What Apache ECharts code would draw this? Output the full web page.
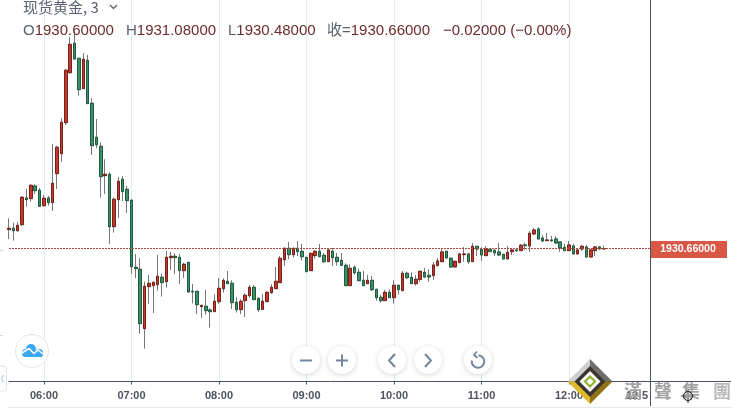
<!DOCTYPE html>
<html>
<head>
<meta charset="utf-8">
<style>
html, body { margin: 0; padding: 0; background: #fff; }
#chart { width: 732px; height: 410px; }
</style>
<script src="https://cdn.jsdelivr.net/npm/echarts@6/dist/echarts.min.js"></script>
</head>
<body>
<div id="chart"></div>
<script>
// 3 minute bars, first one at 05:36
var hourLabels = ["06:00", "07:00", "08:00", "09:00", "10:00", "11:00", "12:00"];
var lastPrice = 1930.66;

var opens = [
  1933.49, 1933.69, 1933.34, 1934.24, 1938.24, 1938.14, 1940.04, 1939.39, 1937.09, 1938.24,
  1937.54, 1941.89, 1944.89, 1949.54, 1957.04, 1961.44, 1959.19, 1954.64, 1958.89, 1952.44,
  1947.34, 1945.99, 1941.59, 1941.79, 1933.94, 1937.99, 1941.04, 1939.54, 1937.89, 1927.84,
  1927.54, 1918.64, 1924.94, 1925.09, 1925.24, 1926.34, 1925.69, 1929.29, 1929.49, 1929.34,
  1927.34, 1928.59, 1924.24, 1924.24, 1921.94, 1921.99, 1921.44, 1921.19, 1922.69, 1924.64,
  1925.74, 1925.44, 1922.59, 1921.49, 1922.84, 1923.59, 1924.84, 1923.19, 1921.54, 1922.69,
  1924.04, 1924.64, 1925.54, 1928.99, 1930.69, 1929.74, 1930.69, 1930.24, 1929.34, 1927.34,
  1929.59, 1930.24, 1929.64, 1928.69, 1930.24, 1929.34, 1928.89, 1928.14, 1925.09, 1927.84,
  1927.09, 1925.89, 1925.39, 1925.89, 1924.54, 1923.34, 1922.84, 1924.09, 1923.29, 1925.14,
  1924.34, 1926.94, 1926.34, 1925.39, 1926.04, 1927.09, 1926.64, 1926.59, 1928.09, 1928.69,
  1930.24, 1929.19, 1927.89, 1928.54, 1929.74, 1929.84, 1928.69, 1930.99, 1930.49, 1929.59,
  1930.54, 1930.39, 1930.14, 1929.79, 1929.09, 1930.19, 1930.44, 1930.34, 1931.19, 1931.04,
  1932.84, 1933.59, 1932.24, 1931.84, 1931.94, 1932.09, 1931.64, 1930.84, 1930.34, 1931.04,
  1929.84, 1930.59, 1930.89, 1929.39, 1930.34, 1930.89, 1930.60
];
var closes = [
  1933.69, 1933.34, 1934.14, 1938.34, 1937.99, 1940.14, 1939.34, 1936.99, 1938.19, 1937.54,
  1940.44, 1945.84, 1949.59, 1957.39, 1961.29, 1959.09, 1954.49, 1959.04, 1952.39, 1946.09,
  1946.24, 1941.44, 1941.79, 1933.94, 1938.04, 1940.74, 1939.19, 1937.84, 1927.94, 1927.64,
  1919.39, 1924.99, 1925.44, 1925.59, 1926.49, 1925.54, 1929.34, 1929.49, 1929.29, 1927.34,
  1928.29, 1924.14, 1924.14, 1922.24, 1922.14, 1921.34, 1921.19, 1922.74, 1924.69, 1925.89,
  1925.39, 1922.54, 1921.49, 1922.74, 1923.64, 1924.84, 1922.99, 1921.49, 1922.74, 1924.09,
  1924.84, 1925.74, 1929.19, 1930.69, 1929.74, 1930.69, 1930.19, 1929.44, 1927.19, 1929.94,
  1930.24, 1929.44, 1928.69, 1930.44, 1929.29, 1928.69, 1928.14, 1925.09, 1927.69, 1927.04,
  1925.84, 1925.09, 1925.89, 1924.49, 1923.29, 1922.84, 1924.09, 1923.29, 1925.14, 1924.49,
  1926.94, 1926.29, 1925.39, 1926.04, 1927.24, 1926.39, 1926.39, 1928.19, 1928.79, 1930.14,
  1929.24, 1927.89, 1928.74, 1929.84, 1929.84, 1928.69, 1930.99, 1930.59, 1929.69, 1930.54,
  1930.19, 1929.99, 1929.69, 1929.09, 1930.09, 1930.44, 1930.34, 1931.14, 1931.09, 1932.94,
  1933.44, 1932.09, 1931.79, 1931.94, 1931.84, 1931.49, 1930.74, 1930.34, 1931.19, 1929.84,
  1930.44, 1930.99, 1929.39, 1930.44, 1930.89, 1930.59, 1930.66
];
var lows = [
  1932.09, 1931.84, 1933.19, 1934.09, 1936.94, 1937.69, 1938.84, 1936.89, 1936.94, 1937.09,
  1936.29, 1939.59, 1943.69, 1949.19, 1956.89, 1958.94, 1953.59, 1954.64, 1952.39, 1944.69,
  1945.69, 1938.29, 1938.84, 1931.34, 1933.04, 1935.24, 1937.79, 1935.99, 1926.89, 1926.24,
  1917.89, 1915.64, 1922.34, 1920.99, 1924.34, 1923.44, 1924.79, 1927.44, 1926.84, 1925.34,
  1926.24, 1924.04, 1922.44, 1920.84, 1920.24, 1920.74, 1918.79, 1921.19, 1922.34, 1924.04,
  1925.34, 1921.59, 1921.04, 1920.84, 1920.39, 1923.29, 1922.99, 1921.19, 1921.49, 1922.69,
  1923.84, 1924.64, 1925.54, 1928.04, 1929.04, 1929.29, 1929.54, 1928.84, 1927.19, 1927.34,
  1929.14, 1929.34, 1928.49, 1928.69, 1928.04, 1928.09, 1928.04, 1925.09, 1925.09, 1926.74,
  1925.84, 1925.09, 1925.34, 1924.29, 1922.84, 1922.54, 1922.84, 1923.29, 1922.39, 1923.74,
  1924.34, 1926.09, 1925.39, 1925.09, 1925.64, 1926.19, 1925.69, 1925.94, 1928.04, 1928.69,
  1929.24, 1927.74, 1927.89, 1928.54, 1928.69, 1928.34, 1928.69, 1929.54, 1928.79, 1929.59,
  1930.14, 1929.54, 1929.54, 1929.09, 1929.09, 1929.69, 1930.14, 1930.34, 1930.44, 1930.14,
  1932.69, 1932.09, 1931.64, 1931.79, 1931.64, 1931.34, 1930.14, 1930.29, 1930.29, 1929.84,
  1929.84, 1930.29, 1929.39, 1929.39, 1929.54, 1930.49, 1930.48
];
var highs = [
  1935.19, 1934.54, 1934.59, 1938.54, 1939.59, 1940.29, 1940.29, 1939.74, 1938.69, 1938.54,
  1946.34, 1946.04, 1950.19, 1957.59, 1962.34, 1963.19, 1959.19, 1959.99, 1959.69, 1953.19,
  1950.09, 1946.59, 1944.04, 1942.09, 1938.29, 1941.34, 1941.54, 1940.04, 1938.09, 1929.84,
  1929.19, 1925.69, 1926.69, 1925.69, 1929.69, 1926.84, 1930.29, 1930.14, 1929.94, 1929.84,
  1928.54, 1928.59, 1925.34, 1924.29, 1922.19, 1924.44, 1921.69, 1923.79, 1926.24, 1926.19,
  1927.29, 1925.89, 1923.34, 1923.04, 1923.94, 1925.19, 1925.19, 1923.34, 1923.84, 1924.29,
  1925.29, 1927.89, 1929.54, 1930.84, 1931.64, 1930.79, 1931.79, 1931.34, 1929.34, 1929.99,
  1930.39, 1931.34, 1929.99, 1930.54, 1930.74, 1929.99, 1929.99, 1928.44, 1928.29, 1928.14,
  1927.64, 1927.29, 1926.69, 1926.54, 1924.54, 1923.69, 1924.44, 1924.54, 1925.89, 1925.29,
  1927.29, 1927.19, 1927.09, 1926.69, 1927.29, 1927.74, 1927.54, 1928.64, 1929.24, 1930.54,
  1930.29, 1929.34, 1928.84, 1929.94, 1930.89, 1930.04, 1931.49, 1930.99, 1930.84, 1931.04,
  1930.69, 1930.59, 1931.49, 1929.84, 1931.04, 1930.74, 1930.69, 1931.34, 1931.54, 1933.29,
  1933.74, 1933.84, 1932.69, 1932.99, 1932.54, 1932.54, 1931.79, 1931.34, 1931.79, 1931.34,
  1930.59, 1931.19, 1931.19, 1930.54, 1930.89, 1931.04, 1931.08
];

// category per bar, axis runs on past the last bar up to the price scale
var categories = [];
for (var i = 0; i < 148; i++) {
  var mins = 5 * 60 + 36 + i * 3;
  var h = Math.floor(mins / 60), m = mins % 60;
  categories.push((h < 10 ? "0" : "") + h + ":" + (m < 10 ? "0" : "") + m);
}

var wicks = opens.map(function (o, i) {
  return [o, closes[i], lows[i], highs[i]];
});
var bodies = opens.map(function (o, i) {
  return [o, closes[i], Math.min(o, closes[i]), Math.max(o, closes[i])];
});

function isHour(idx, value) {
  return hourLabels.indexOf(value) >= 0;
}

function seg(x1, y1, x2, y2, color, width) {
  return {
    type: "line",
    z: 50,
    shape: { x1: x1, y1: y1, x2: x2, y2: y2 },
    style: { stroke: color, lineWidth: width || 1 }
  };
}

function roundBtn(cx) {
  return {
    type: "circle",
    z: 50,
    shape: { cx: cx, cy: 360, r: 14 },
    style: { fill: "#fff", shadowBlur: 5, shadowColor: "rgba(60,70,90,0.22)", shadowOffsetY: 1 }
  };
}

function tri(points, fill, z) {
  return { type: "polygon", z: z, shape: { points: points }, style: { fill: fill } };
}

function wmChar(x, ch, color) {
  return {
    type: "text", z: 71, x: x, y: 391,
    style: { text: ch, fill: color, verticalAlign: "middle", font: 'bold 18px "Noto Sans CJK TC", sans-serif' }
  };
}

var iconColor = "#73859c";
var cloudBlue = "#3aa7f3";
var legendFont = '15px "Liberation Sans", "Noto Sans CJK SC", sans-serif';
var valueColor = "#6f2b2b";

function legendText(x, label, value) {
  return {
    type: "text",
    z: 60,
    x: x,
    y: 23,
    style: {
      text: "{a|" + label + "}{b|" + value + "}",
      rich: {
        a: { font: legendFont, fill: "#5b6172" },
        b: { font: legendFont, fill: valueColor }
      }
    }
  };
}

var chrome = [
  // price scale edge and axis extension
  seg(650.5, 0, 650.5, 406, "#4a5068"),
  seg(650, 381.5, 731, 381.5, "#4a5068"),
  seg(8, 407.5, 731, 407.5, "#e6e8ef"),
  seg(0, 250.5, 3, 250.5, "#d6d8de"),
  seg(0, 335.5, 3, 335.5, "#d6d8de"),

  // last price tag
  { type: "rect", z: 60, shape: { x: 651, y: 241, width: 76, height: 17 }, style: { fill: "#d95745" } },
  {
    type: "text", z: 61, x: 688, y: 249.5,
    style: { text: "1930.66000", fill: "#fff", align: "center", verticalAlign: "middle",
      font: 'bold 10.5px "Liberation Sans", sans-serif' }
  },

  // legend
  {
    type: "text", z: 60, x: 23, y: 0,
    style: { text: "现货黄金, 3", fill: "#5b6172", font: '15px "Noto Sans CJK SC", "Liberation Sans", sans-serif' }
  },
  {
    type: "polyline", z: 60,
    shape: { points: [[110, 5], [113.5, 8.5], [117, 5]] },
    style: { stroke: "#5b6172", fill: "none", lineWidth: 1.3 }
  },
  legendText(23, "O", "1930.60000"),
  legendText(126, "H", "1931.08000"),
  legendText(228, "L", "1930.48000"),
  legendText(327, "收=", "1930.66000"),
  {
    type: "text", z: 60, x: 443, y: 23,
    style: { text: "−0.02000 (−0.00%)", fill: valueColor, font: legendFont }
  },

  // cloud button
  {
    type: "circle", z: 50,
    shape: { cx: 32, cy: 351, r: 16.5 },
    style: { fill: "#fff", stroke: "#e6e6e6", lineWidth: 1 }
  },
  { type: "circle", z: 51, shape: { cx: 26, cy: 353, r: 4 }, style: { fill: cloudBlue } },
  { type: "circle", z: 51, shape: { cx: 31, cy: 349, r: 5 }, style: { fill: cloudBlue } },
  { type: "circle", z: 51, shape: { cx: 39, cy: 353, r: 4 }, style: { fill: cloudBlue } },
  { type: "rect", z: 51, shape: { x: 23, y: 351, width: 20, height: 6, r: 2 }, style: { fill: cloudBlue } },
  {
    type: "polyline", z: 52,
    shape: { points: [[22, 353], [29, 348.5], [34, 353.5], [38, 350], [43, 354]] },
    style: { stroke: "#fff", fill: "none", lineWidth: 1.5 }
  },

  // zoom / scroll / reset buttons
  roundBtn(306), roundBtn(342), roundBtn(392), roundBtn(428), roundBtn(478),
  seg(300, 360.5, 312, 360.5, iconColor, 2),
  seg(336, 360.5, 348, 360.5, iconColor, 2),
  seg(342, 354.5, 342, 366.5, iconColor, 2),
  {
    type: "polyline", z: 51,
    shape: { points: [[395, 354], [389, 360.5], [395, 367]] },
    style: { stroke: iconColor, fill: "none", lineWidth: 2 }
  },
  {
    type: "polyline", z: 51,
    shape: { points: [[425, 354], [431, 360.5], [425, 367]] },
    style: { stroke: iconColor, fill: "none", lineWidth: 2 }
  },
  {
    type: "arc", z: 51,
    shape: { cx: 478, cy: 361.5, r: 6.2, startAngle: -1.5, endAngle: 3.3 },
    style: { stroke: iconColor, fill: "none", lineWidth: 2 }
  },
  {
    type: "polyline", z: 51,
    shape: { points: [[477, 351.5], [474, 355], [477.5, 358]] },
    style: { stroke: iconColor, fill: "none", lineWidth: 1.8 }
  },

  // collapse tab on the left
  {
    type: "rect", z: 50,
    shape: { x: -4, y: 366, width: 10.5, height: 25, r: 3 },
    style: { fill: "#fff", stroke: "#dfe3ea", lineWidth: 1 }
  },
  {
    type: "polyline", z: 51,
    shape: { points: [[3.5, 375], [1.5, 378.5], [3.5, 382]] },
    style: { stroke: "#a8b6c6", fill: "none", lineWidth: 1 }
  },

  // watermark over the time axis
  {
    type: "text", z: 70, x: 626, y: 395.5,
    style: { text: "12:5", fill: "#50535e", verticalAlign: "middle", font: 'bold 11px "Liberation Sans", sans-serif' }
  },
  wmChar(624, "滿", "#a3a3a3"),
  wmChar(654, "聲", "#a3a3a3"),
  wmChar(682, "集", "#a3a3a3"),
  wmChar(713, "團", "#b8b8b8"),
  tri([[590, 359], [567.5, 381.5], [590, 381.5]], "#cfcfcf", 70),
  tri([[590, 359], [612.5, 381.5], [590, 381.5]], "#6e6e6e", 70),
  tri([[590, 404], [567.5, 381.5], [590, 381.5]], "#e0b92a", 70),
  tri([[590, 404], [612.5, 381.5], [590, 381.5]], "#8f7315", 70),
  tri([[590, 366], [605.5, 381.5], [590, 397], [574.5, 381.5]], "#3b3632", 71),
  tri([[590, 371], [600.5, 381.5], [590, 392], [579.5, 381.5]], "#fff", 72),
  tri([[590, 375], [596.5, 381.5], [590, 388], [583.5, 381.5]], "#8cb32a", 73),
  tri([[590, 378], [593.5, 381.5], [590, 385], [586.5, 381.5]], "#fff", 74),
  { type: "circle", z: 72, shape: { cx: 688, cy: 396, r: 4.5 }, style: { fill: "none", stroke: "#222", lineWidth: 1 } },
  seg(688, 389, 688, 403, "#222"),
  seg(681, 396, 695, 396, "#222")
];

var myChart = echarts.init(document.getElementById("chart"));
myChart.setOption({
  animation: false,
  backgroundColor: "#fff",
  grid: { left: 9, top: 0, width: 643.1, height: 381.5 },
  xAxis: {
    type: "category",
    data: categories,
    boundaryGap: false,
    axisLine: { lineStyle: { color: "#4a5068", width: 1 } },
    axisTick: { interval: isHour, length: 3, lineStyle: { color: "#4a5068" } },
    axisLabel: {
      interval: isHour,
      margin: 9,
      color: "#50535e",
      fontSize: 11,
      fontWeight: "bold",
      fontFamily: "Liberation Sans"
    },
    splitLine: { show: true, interval: isHour, lineStyle: { color: "#dfebf3", width: 1 } }
  },
  yAxis: { type: "value", min: 1910.71, max: 1967.935, show: false },
  series: [
    {
      name: "wick",
      type: "candlestick",
      data: wicks,
      barWidth: 3,
      clip: false,
      silent: true,
      itemStyle: { color: "#777", color0: "#777", borderColor: "#777", borderColor0: "#777", borderWidth: 1 },
      markLine: {
        silent: true,
        symbol: "none",
        label: { show: false },
        lineStyle: { color: "#a84a40", type: [2, 1], width: 1 },
        data: [{ yAxis: lastPrice }]
      }
    },
    {
      name: "body",
      type: "candlestick",
      data: bodies,
      barWidth: 3,
      clip: false,
      silent: true,
      itemStyle: { color: "#c1392b", color0: "#3f8f66", borderColor: "#7a201a", borderColor0: "#1d5c3e", borderWidth: 1 }
    }
  ],
  graphic: { elements: chrome }
});
</script>
</body>
</html>
